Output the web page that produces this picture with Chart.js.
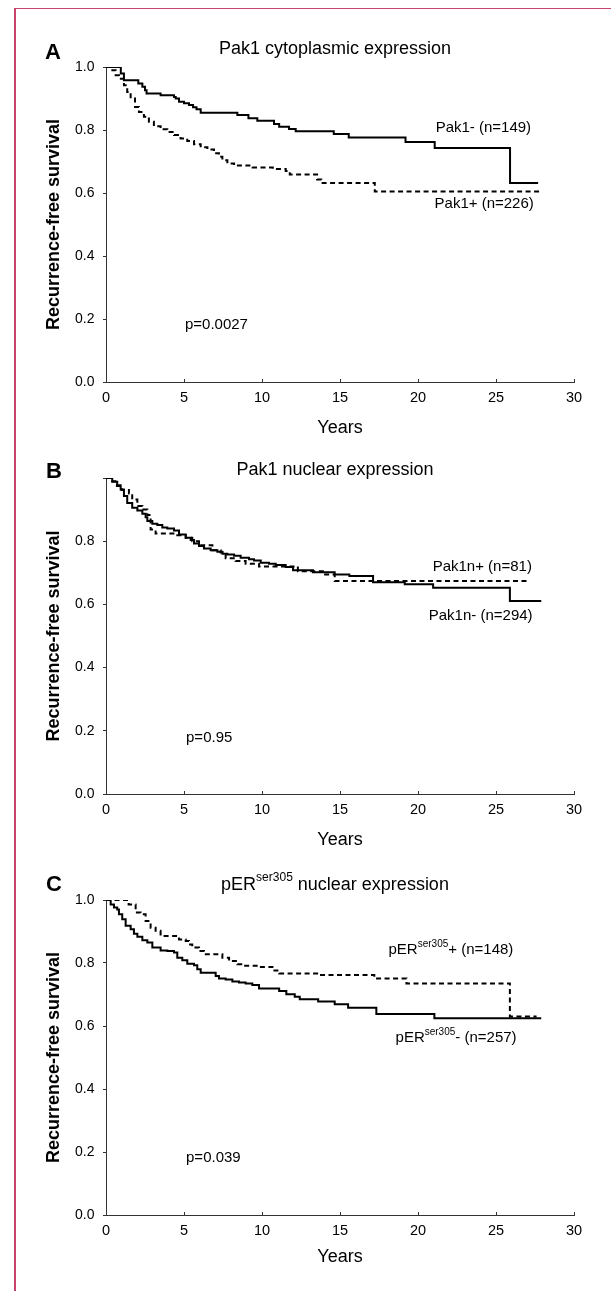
<!DOCTYPE html>
<html>
<head>
<meta charset="utf-8">
<script src="https://cdn.jsdelivr.net/npm/chart.js@4.4.1/dist/chart.umd.min.js"></script>
<style>
  html, body { margin: 0; padding: 0; background: #fff; }
  #page { position: relative; width: 611px; height: 1291px; overflow: hidden; background: #fff; }
  #frame { position: absolute; left: 14px; top: 8px; width: 700px; height: 1400px;
           border-left: 2px solid #c8436b; border-top: 1px solid #c8436b; }
  .panel { position: absolute; left: 0; width: 611px; }
  canvas { display: block; }
</style>
</head>
<body>
<div id="page">
  <div id="frame"></div>
  <div class="panel" style="top:0px"><canvas id="chartA" width="611" height="440"></canvas></div>
  <div class="panel" style="top:440px"><canvas id="chartB" width="611" height="420"></canvas></div>
  <div class="panel" style="top:860px"><canvas id="chartC" width="611" height="431"></canvas></div>
</div>
<script>
// --- data (years, survival fraction) ---
// A: Pak1 cytoplasmic
const aNegT = [0, 0.83, 0.95, 1.15, 2.07, 2.33, 2.5, 2.6, 3.5, 4.36, 4.47, 4.68, 5.0, 5.32, 5.58, 5.8, 6.07, 8.42, 9.13, 9.7, 10.77, 11.1, 11.73, 12.16, 14.6, 15.56, 19.2, 21.07, 25.9, 27.7];
const aNegS = [1.0, 1.0, 0.979, 0.958, 0.948, 0.937, 0.926, 0.916, 0.910, 0.905, 0.900, 0.890, 0.885, 0.879, 0.872, 0.866, 0.855, 0.848, 0.837, 0.829, 0.819, 0.810, 0.803, 0.796, 0.787, 0.776, 0.762, 0.743, 0.632, 0.632];
const aPosT = [0, 0.3, 0.62, 0.83, 1.15, 1.36, 1.58, 1.86, 2.11, 2.43, 2.75, 3.07, 3.5, 3.93, 4.36, 4.78, 5.21, 5.64, 6.07, 6.5, 6.92, 7.24, 7.46, 7.78, 8.21, 9.4, 10.69, 11.52, 11.78, 13.53, 13.8, 17.23, 27.9];
const aPosS = [1.0, 0.990, 0.974, 0.963, 0.942, 0.921, 0.900, 0.873, 0.857, 0.842, 0.826, 0.812, 0.802, 0.794, 0.784, 0.773, 0.765, 0.755, 0.745, 0.738, 0.726, 0.715, 0.704, 0.694, 0.687, 0.681, 0.676, 0.670, 0.659, 0.643, 0.632, 0.605, 0.605];

// B: Pak1 nuclear
const bNegT = [0, 0.4, 0.72, 0.94, 1.15, 1.36, 1.68, 2.01, 2.33, 2.54, 2.65, 2.97, 3.29, 3.61, 3.93, 4.36, 4.68, 5.11, 5.43, 5.64, 5.96, 6.28, 6.71, 7.14, 7.46, 7.78, 8.21, 8.63, 9.17, 9.49, 9.92, 10.45, 10.88, 11.52, 11.99, 13.27, 14.66, 15.6, 17.12, 19.15, 20.97, 25.89, 27.9];
const bNegS = [1.0, 0.988, 0.977, 0.964, 0.943, 0.921, 0.906, 0.897, 0.887, 0.876, 0.864, 0.855, 0.851, 0.843, 0.840, 0.834, 0.821, 0.811, 0.804, 0.793, 0.785, 0.777, 0.771, 0.767, 0.760, 0.758, 0.754, 0.748, 0.743, 0.739, 0.732, 0.729, 0.725, 0.718, 0.708, 0.702, 0.695, 0.690, 0.670, 0.664, 0.653, 0.611, 0.611];
const bPosT = [0, 0.3, 0.7, 1.0, 1.47, 1.68, 2.01, 2.33, 2.65, 2.86, 3.18, 4.46, 5.11, 5.53, 5.96, 6.82, 7.35, 7.67, 8.31, 8.95, 9.81, 12.3, 13.9, 14.66, 27.05];
const bPosS = [1.0, 0.990, 0.975, 0.962, 0.951, 0.932, 0.911, 0.900, 0.883, 0.837, 0.824, 0.819, 0.811, 0.800, 0.787, 0.771, 0.764, 0.746, 0.737, 0.729, 0.720, 0.705, 0.695, 0.674, 0.674];

// C: pER ser305 nuclear
const cNegT = [0, 0.3, 0.51, 0.72, 0.83, 1.04, 1.26, 1.58, 1.79, 2.01, 2.33, 2.65, 2.97, 3.5, 3.93, 4.36, 4.57, 4.89, 5.21, 5.64, 5.85, 6.07, 7.03, 7.24, 7.67, 8.1, 8.53, 8.95, 9.38, 9.81, 11.1, 11.56, 12.1, 12.42, 13.6, 14.66, 15.52, 17.33, 21.05, 27.9];
const cNegS = [1.0, 0.986, 0.976, 0.970, 0.955, 0.939, 0.918, 0.907, 0.893, 0.883, 0.872, 0.865, 0.849, 0.840, 0.838, 0.833, 0.817, 0.809, 0.798, 0.793, 0.780, 0.769, 0.759, 0.751, 0.748, 0.741, 0.738, 0.735, 0.730, 0.719, 0.711, 0.701, 0.693, 0.685, 0.678, 0.669, 0.658, 0.638, 0.625, 0.625];
const cPosT = [0, 1.45, 1.9, 2.22, 2.54, 2.86, 3.18, 3.5, 4.68, 5.11, 5.32, 5.53, 5.96, 6.28, 7.46, 7.89, 8.42, 8.85, 9.81, 10.67, 11.1, 13.6, 17.2, 19.26, 25.89, 27.6];
const cPosS = [1.0, 0.986, 0.960, 0.955, 0.933, 0.912, 0.902, 0.886, 0.875, 0.870, 0.859, 0.849, 0.838, 0.828, 0.817, 0.806, 0.796, 0.791, 0.787, 0.776, 0.767, 0.762, 0.751, 0.735, 0.630, 0.630];

const xTicks = [0, 5, 10, 15, 20, 25, 30];
const yTicks = [0, 0.2, 0.4, 0.6, 0.8, 1.0];

const FONT = '"Liberation Sans", Arial, Helvetica, sans-serif';

function pts(ts, ss) {
  return ts.map((t, i) => ({ x: t, y: ss[i] }));
}

// text runs with optional superscript
function drawRuns(ctx, runs, x, y, size, weight, align) {
  const sup = Math.round(size * 0.68);
  let w = 0;
  const widths = runs.map(r => {
    ctx.font = `${weight} ${r.sup ? sup : size}px ${FONT}`;
    const m = ctx.measureText(r.text).width;
    w += m;
    return m;
  });
  let cx = align === 'center' ? x - w / 2 : (align === 'right' ? x - w : x);
  runs.forEach((r, i) => {
    ctx.font = `${weight} ${r.sup ? sup : size}px ${FONT}`;
    ctx.fillText(r.text, cx, r.sup ? y - size * 0.38 : y);
    cx += widths[i];
  });
}

const notesPlugin = {
  id: 'notes',
  afterDraw(chart, args, opts) {
    const ctx = chart.ctx;
    const xs = chart.scales.x, ys = chart.scales.y;
    ctx.save();
    ctx.fillStyle = '#000';
    ctx.textBaseline = 'middle';
    (opts.items || []).forEach(n => {
      const px = n.t !== undefined ? xs.getPixelForValue(n.t) : n.px;
      const py = n.s !== undefined ? ys.getPixelForValue(n.s) : n.py - opts.top;
      drawRuns(ctx, n.runs, px, py, n.size || 15, n.weight || 'normal', n.align || 'left');
    });
    ctx.restore();
  }
};

function makePanel(p) {
  const h = p.height;
  const plotTop = p.plotTop - p.top;
  const plotBottom = p.plotBottom - p.top;
  const xH = h - plotBottom;
  const yearsPad = h - (p.yearsY - p.top) - 18 * 1.2 / 2;
  new Chart(document.getElementById(p.id), {
    type: 'line',
    data: {
      datasets: p.series.map(s => ({
        data: pts(s.t, s.s),
        stepped: true,
        borderColor: '#000',
        borderWidth: 2,
        borderDash: s.dashed ? [5, 3.5] : [],
        pointRadius: 0,
        fill: false,
      })),
    },
    options: {
      responsive: false,
      animation: false,
      layout: { padding: { top: plotTop, left: 0, right: 37, bottom: 0 } },
      plugins: {
        legend: { display: false },
        tooltip: { enabled: false },
        notes: { items: p.notes, top: p.top },
      },
      scales: {
        x: {
          type: 'linear', min: 0, max: 30,
          afterFit: s => { s.height = xH; },
          afterBuildTicks: s => { s.ticks = xTicks.map(v => ({ value: v })); },
          ticks: { color: '#000', font: { size: 14.5, family: FONT }, padding: 10, maxRotation: 0, autoSkip: false },
          grid: { drawOnChartArea: false, drawTicks: true, tickLength: -3, color: '#333' },
          border: { display: true, color: '#333', width: 1 },
          title: { display: true, text: 'Years', color: '#000',
                   font: { size: 18, family: FONT, lineHeight: 1.2 }, padding: { top: 0, bottom: yearsPad } },
        },
        y: {
          type: 'linear', min: 0, max: 1,
          afterFit: s => { s.width = 106; },
          afterBuildTicks: s => { s.ticks = yTicks.map(v => ({ value: v })); },
          ticks: {
            color: '#000', font: { size: 14, family: FONT }, padding: 8.5,
            callback: v => (p.hideTop && v > 0.99) ? '' : v.toFixed(1),
          },
          grid: { drawOnChartArea: false, drawTicks: true, tickLength: 3, color: '#333' },
          border: { display: true, color: '#333', width: 1 },
          title: { display: true, text: 'Recurrence-free survival', color: '#000',
                   font: { size: 18, weight: 'bold', family: FONT, lineHeight: 1.2 }, padding: { top: 43.5, bottom: 0 } },
        },
      },
    },
    plugins: [notesPlugin],
  });
}

makePanel({
  id: 'chartA', top: 0, height: 440, plotTop: 67, plotBottom: 382, yearsY: 428,
  series: [{ t: aNegT, s: aNegS }, { t: aPosT, s: aPosS, dashed: true }],
  notes: [
    { runs: [{ text: 'A' }], px: 45, py: 53, size: 22, weight: 'bold' },
    { runs: [{ text: 'Pak1 cytoplasmic expression' }], px: 335, py: 49, size: 18, align: 'center' },
    { runs: [{ text: 'Pak1- (n=149)' }], t: 21.13, s: 0.806 },
    { runs: [{ text: 'Pak1+ (n=226)' }], t: 21.06, s: 0.565 },
    { runs: [{ text: 'p=0.0027' }], t: 5.06, s: 0.181 },
  ],
});

makePanel({
  id: 'chartB', top: 440, height: 420, plotTop: 478, plotBottom: 794, yearsY: 840, hideTop: true,
  series: [{ t: bNegT, s: bNegS }, { t: bPosT, s: bPosS, dashed: true }],
  notes: [
    { runs: [{ text: 'B' }], px: 46, py: 472, size: 22, weight: 'bold' },
    { runs: [{ text: 'Pak1 nuclear expression' }], px: 335, py: 470, size: 18, align: 'center' },
    { runs: [{ text: 'Pak1n+ (n=81)' }], t: 20.94, s: 0.719 },
    { runs: [{ text: 'Pak1n- (n=294)' }], t: 20.69, s: 0.563 },
    { runs: [{ text: 'p=0.95' }], t: 5.13, s: 0.177 },
  ],
});

makePanel({
  id: 'chartC', top: 860, height: 431, plotTop: 900, plotBottom: 1215, yearsY: 1257,
  series: [{ t: cNegT, s: cNegS }, { t: cPosT, s: cPosS, dashed: true }],
  notes: [
    { runs: [{ text: 'C' }], px: 46, py: 885, size: 22, weight: 'bold' },
    { runs: [{ text: 'pER' }, { text: 'ser305', sup: true }, { text: ' nuclear expression' }], px: 335, py: 885, size: 18, align: 'center' },
    { runs: [{ text: 'pER' }, { text: 'ser305', sup: true }, { text: '+ (n=148)' }], t: 18.11, s: 0.841 },
    { runs: [{ text: 'pER' }, { text: 'ser305', sup: true }, { text: '- (n=257)' }], t: 18.56, s: 0.562 },
    { runs: [{ text: 'p=0.039' }], t: 5.13, s: 0.181 },
  ],
});
</script>
</body>
</html>
